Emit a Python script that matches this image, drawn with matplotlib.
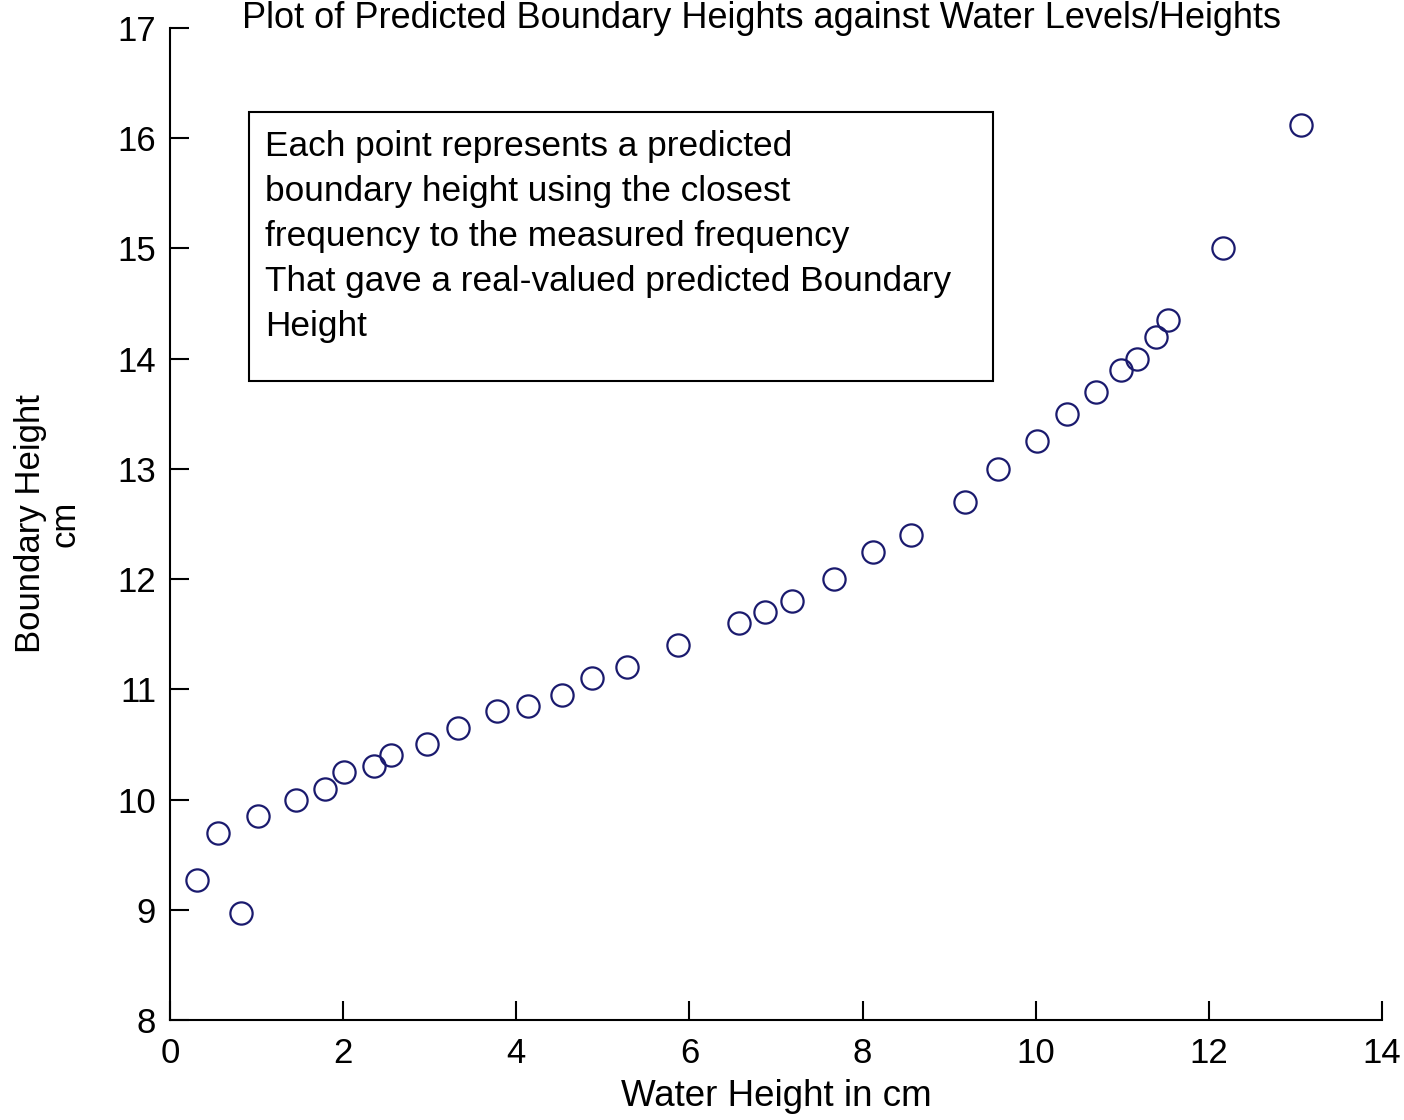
import matplotlib
matplotlib.use('Agg')
import matplotlib.pyplot as plt
from matplotlib.patches import Rectangle

plt.rcParams['font.family'] = ['Liberation Sans', 'DejaVu Sans']

# water height (cm) vs predicted boundary height (cm)
water_h = [0.31, 0.55, 0.82, 1.02, 1.46, 1.79, 2.01, 2.36, 2.55, 2.97,
           3.33, 3.78, 4.14, 4.53, 4.87, 5.28, 5.87, 6.57, 6.87, 7.18,
           7.67, 8.12, 8.56, 9.18, 9.56, 10.02, 10.36, 10.70, 10.99, 11.17,
           11.39, 11.53, 12.16, 13.06]
boundary_h = [9.27, 9.70, 8.97, 9.85, 10.00, 10.10, 10.25, 10.30, 10.40, 10.50,
              10.65, 10.80, 10.85, 10.95, 11.10, 11.20, 11.40, 11.60, 11.70, 11.80,
              12.00, 12.25, 12.40, 12.70, 13.00, 13.25, 13.50, 13.70, 13.90, 14.00,
              14.20, 14.35, 15.00, 16.12]
xticks = [0, 2, 4, 6, 8, 10, 12, 14]
yticks = [8, 9, 10, 11, 12, 13, 14, 15, 16, 17]

note = ("Each point represents a predicted\n"
        "boundary height using the closest\n"
        "frequency to the measured frequency\n"
        "That gave a real-valued predicted Boundary\n"
        "Height")

fig = plt.figure(figsize=(14.04, 11.2), dpi=100)
ax = fig.add_axes([170/1404, 100/1120, 1212/1404, 992/1120])

ax.plot(water_h, boundary_h, 'o', ms=16, mfc='none', mec='#1a1a6e', mew=1.6)

ax.set_xlim(0, 14)
ax.set_ylim(8, 17)
ax.set_xticks(xticks)
ax.set_yticks(yticks)
ax.spines['top'].set_visible(False)
ax.spines['right'].set_visible(False)
for s in ['left', 'bottom']:
    ax.spines[s].set_linewidth(1.5)
ax.tick_params(direction='in', length=14, width=1.5, labelsize=25)
ax.tick_params(axis='x', pad=12)
ax.tick_params(axis='y', pad=10)

ax.set_xlabel('Water Height in cm', fontsize=26.5, labelpad=7)
ax.set_ylabel('Boundary Height\ncm', fontsize=25, labelpad=26, linespacing=1.05)

# annotation box
ax.add_patch(Rectangle((79/1212, (1020-381)/992), (993-249)/1212, (381-112)/992,
                       transform=ax.transAxes, fill=False, ec='black', lw=1.5))
ax.text(95/1212, (1020-130)/992, note, transform=ax.transAxes, fontsize=25.4,
        va='top', ha='left', linespacing=1.46)

fig.text(762/1404, 1 - 1/1120, 'Plot of Predicted Boundary Heights against Water Levels/Heights',
         ha='center', va='top', fontsize=26)

fig.savefig('out.png', dpi=100)
